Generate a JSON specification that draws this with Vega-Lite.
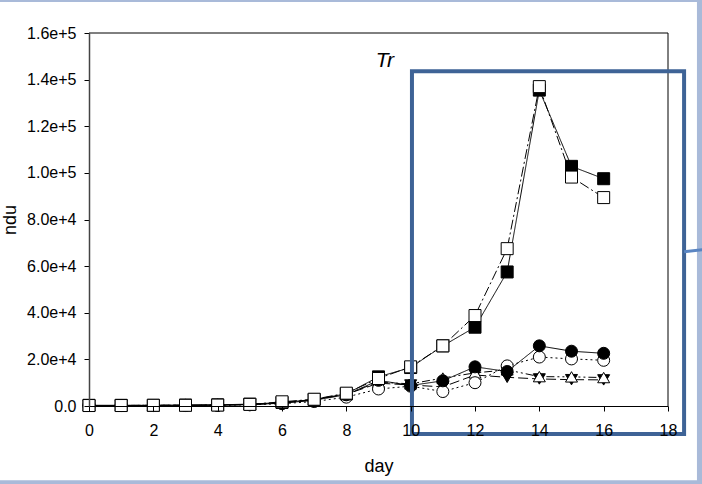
{
  "$schema": "https://vega.github.io/schema/vega-lite/v6.json",
  "autosize": {"type": "none"},
  "width": 579,
  "height": 373,
  "padding": {"left": 89, "top": 33, "right": 34, "bottom": 78},
  "background": "#A9BAD9",
  "config": {
    "view": {"stroke": null},
    "font": "Liberation Sans",
    "axis": {"labelFont": "Liberation Sans", "titleFont": "Liberation Sans", "labelColor": "black", "titleColor": "black", "domainColor": "black", "tickColor": "black", "grid": false, "titleFontWeight": "normal", "labelFlush": false}
  },
  "datasets": {
    "series": [
      {"day": 0, "s": "FT", "v": 200}, {"day": 1, "s": "FT", "v": 200}, {"day": 2, "s": "FT", "v": 300}, {"day": 3, "s": "FT", "v": 300}, {"day": 4, "s": "FT", "v": 400}, {"day": 5, "s": "FT", "v": 600}, {"day": 6, "s": "FT", "v": 1300}, {"day": 7, "s": "FT", "v": 2600}, {"day": 8, "s": "FT", "v": 5000}, {"day": 9, "s": "FT", "v": 9800}, {"day": 10, "s": "FT", "v": 9000}, {"day": 11, "s": "FT", "v": 8200}, {"day": 12, "s": "FT", "v": 13300}, {"day": 13, "s": "FT", "v": 12300}, {"day": 14, "s": "FT", "v": 11600}, {"day": 15, "s": "FT", "v": 11300}, {"day": 16, "s": "FT", "v": 11200},
      {"day": 0, "s": "OT", "v": 200}, {"day": 1, "s": "OT", "v": 200}, {"day": 2, "s": "OT", "v": 300}, {"day": 3, "s": "OT", "v": 300}, {"day": 4, "s": "OT", "v": 400}, {"day": 5, "s": "OT", "v": 700}, {"day": 6, "s": "OT", "v": 1400}, {"day": 7, "s": "OT", "v": 2700}, {"day": 8, "s": "OT", "v": 5200}, {"day": 9, "s": "OT", "v": 10200}, {"day": 10, "s": "OT", "v": 9500}, {"day": 11, "s": "OT", "v": 12000}, {"day": 12, "s": "OT", "v": 14200}, {"day": 13, "s": "OT", "v": 15500}, {"day": 14, "s": "OT", "v": 12600}, {"day": 15, "s": "OT", "v": 12500}, {"day": 16, "s": "OT", "v": 12200},
      {"day": 0, "s": "OC", "v": 200}, {"day": 1, "s": "OC", "v": 200}, {"day": 2, "s": "OC", "v": 200}, {"day": 3, "s": "OC", "v": 200}, {"day": 4, "s": "OC", "v": 300}, {"day": 5, "s": "OC", "v": 500}, {"day": 6, "s": "OC", "v": 1000}, {"day": 7, "s": "OC", "v": 1900}, {"day": 8, "s": "OC", "v": 3800}, {"day": 9, "s": "OC", "v": 7300}, {"day": 10, "s": "OC", "v": 8500}, {"day": 11, "s": "OC", "v": 6200}, {"day": 12, "s": "OC", "v": 10000}, {"day": 13, "s": "OC", "v": 17200}, {"day": 14, "s": "OC", "v": 21000}, {"day": 15, "s": "OC", "v": 20200}, {"day": 16, "s": "OC", "v": 19600},
      {"day": 0, "s": "FC", "v": 200}, {"day": 1, "s": "FC", "v": 200}, {"day": 2, "s": "FC", "v": 200}, {"day": 3, "s": "FC", "v": 300}, {"day": 4, "s": "FC", "v": 300}, {"day": 5, "s": "FC", "v": 600}, {"day": 6, "s": "FC", "v": 1200}, {"day": 7, "s": "FC", "v": 2500}, {"day": 8, "s": "FC", "v": 4800}, {"day": 9, "s": "FC", "v": 11000}, {"day": 10, "s": "FC", "v": 8800}, {"day": 11, "s": "FC", "v": 10800}, {"day": 12, "s": "FC", "v": 16800}, {"day": 13, "s": "FC", "v": 14800}, {"day": 14, "s": "FC", "v": 25800}, {"day": 15, "s": "FC", "v": 23500}, {"day": 16, "s": "FC", "v": 22600},
      {"day": 0, "s": "FS", "v": 300}, {"day": 1, "s": "FS", "v": 300}, {"day": 2, "s": "FS", "v": 300}, {"day": 3, "s": "FS", "v": 400}, {"day": 4, "s": "FS", "v": 500}, {"day": 5, "s": "FS", "v": 800}, {"day": 6, "s": "FS", "v": 1500}, {"day": 7, "s": "FS", "v": 2800}, {"day": 8, "s": "FS", "v": 5200}, {"day": 9, "s": "FS", "v": 12500}, {"day": 10, "s": "FS", "v": 16500}, {"day": 11, "s": "FS", "v": 25800}, {"day": 12, "s": "FS", "v": 33800}, {"day": 13, "s": "FS", "v": 57500}, {"day": 14, "s": "FS", "v": 135500}, {"day": 15, "s": "FS", "v": 102800}, {"day": 16, "s": "FS", "v": 97500},
      {"day": 0, "s": "OS", "v": 200}, {"day": 1, "s": "OS", "v": 200}, {"day": 2, "s": "OS", "v": 300}, {"day": 3, "s": "OS", "v": 300}, {"day": 4, "s": "OS", "v": 400}, {"day": 5, "s": "OS", "v": 700}, {"day": 6, "s": "OS", "v": 1800}, {"day": 7, "s": "OS", "v": 2900}, {"day": 8, "s": "OS", "v": 5500}, {"day": 9, "s": "OS", "v": 11800}, {"day": 10, "s": "OS", "v": 16800}, {"day": 11, "s": "OS", "v": 25800}, {"day": 12, "s": "OS", "v": 38800}, {"day": 13, "s": "OS", "v": 67500}, {"day": 14, "s": "OS", "v": 137000}, {"day": 15, "s": "OS", "v": 98200}, {"day": 16, "s": "OS", "v": 89400}
    ],
    "sheet": [{"x0": -2.77, "x1": 18.9, "y0": -31800, "y1": 173300}],
    "frame": [{"x0": 0, "x1": 18, "y0": 0, "y1": 160000}],
    "box": [{"x0": 10.04, "x1": 18.5, "y0": -12000, "y1": 143600}],
    "link": [{"x0": 18.5, "x1": 19.1, "y0": 66200, "y1": 67100}],
    "label": [{"x": 9.2, "y": 148000, "t": "Tr"}]
  },
  "layer": [
    {
      "data": {"name": "sheet"},
      "mark": {"type": "rect", "fill": "white", "clip": false},
      "encoding": {
        "x": {"field": "x0", "type": "quantitative", "scale": {"domain": [0, 18], "nice": false, "zero": false}, "axis": {"title": "day", "zindex": 2, "values": [0, 2, 4, 6, 8, 10, 12, 14, 16, 18], "labelFontSize": 16, "titleFontSize": 18, "tickSize": 5, "labelPadding": 11, "titlePadding": 19, "domainWidth": 1}},
        "x2": {"field": "x1"},
        "y": {"field": "y0", "type": "quantitative", "scale": {"domain": [0, 160000], "nice": false, "zero": false}, "axis": {"title": "ndu", "zindex": 2, "values": [0, 20000, 40000, 60000, 80000, 100000, 120000, 140000, 160000], "labelExpr": "datum.value == 0 ? '0.0' : format(datum.value, '.1e')", "labelFontSize": 16, "titleFontSize": 18, "tickSize": 5, "labelPadding": 8, "titlePadding": 7, "domainWidth": 1.5, "domainColor": "#444444"}},
        "y2": {"field": "y1"}
      }
    },
    {
      "data": {"name": "frame"},
      "mark": {"type": "rule", "color": "black", "strokeWidth": 1},
      "encoding": {"x": {"field": "x0", "type": "quantitative"}, "x2": {"field": "x1"}, "y": {"field": "y1", "type": "quantitative"}}
    },
    {
      "data": {"name": "frame"},
      "mark": {"type": "rule", "color": "black", "strokeWidth": 1},
      "encoding": {"x": {"field": "x1", "type": "quantitative"}, "y": {"field": "y0", "type": "quantitative"}, "y2": {"field": "y1"}}
    },
    {
      "data": {"name": "series"},
      "mark": {"type": "line", "color": "black", "strokeWidth": 1},
      "encoding": {
        "x": {"field": "day", "type": "quantitative"},
        "y": {"field": "v", "type": "quantitative"},
        "detail": {"field": "s", "type": "nominal"},
        "strokeDash": {"field": "s", "type": "nominal", "legend": null, "scale": {"domain": ["FS", "OS", "FC", "OC", "FT", "OT"], "range": [[1, 0], [10, 3, 2, 3], [1, 0], [2, 3], [10, 4], [8, 3, 2, 3, 2, 3]]}}
      }
    },
    {
      "data": {"name": "series"},
      "mark": {"type": "point", "filled": true, "stroke": "black", "strokeWidth": 1, "opacity": 1, "size": 144},
      "encoding": {
        "x": {"field": "day", "type": "quantitative"},
        "y": {"field": "v", "type": "quantitative"},
        "shape": {"field": "s", "type": "nominal", "legend": null, "scale": {"domain": ["FS", "OS", "FC", "OC", "FT", "OT"], "range": ["square", "square", "circle", "circle", "triangle-down", "triangle-up"]}},
        "fill": {"field": "s", "type": "nominal", "legend": null, "scale": {"domain": ["FS", "OS", "FC", "OC", "FT", "OT"], "range": ["black", "white", "black", "white", "black", "white"]}}
      }
    },
    {
      "data": {"name": "label"},
      "mark": {"type": "text", "fontSize": 21, "fontStyle": "italic", "color": "black", "font": "Liberation Sans"},
      "encoding": {"x": {"field": "x", "type": "quantitative"}, "y": {"field": "y", "type": "quantitative"}, "text": {"field": "t"}}
    },
    {
      "data": {"name": "box"},
      "mark": {"type": "rect", "fill": null, "fillOpacity": 0, "stroke": "#3E6396", "strokeWidth": 4, "clip": false},
      "encoding": {"x": {"field": "x0", "type": "quantitative"}, "x2": {"field": "x1"}, "y": {"field": "y0", "type": "quantitative"}, "y2": {"field": "y1"}}
    },
    {
      "data": {"name": "link"},
      "mark": {"type": "rule", "color": "#5A85C2", "strokeWidth": 3, "clip": false},
      "encoding": {"x": {"field": "x0", "type": "quantitative"}, "x2": {"field": "x1"}, "y": {"field": "y0", "type": "quantitative"}, "y2": {"field": "y1"}}
    }
  ]
}
